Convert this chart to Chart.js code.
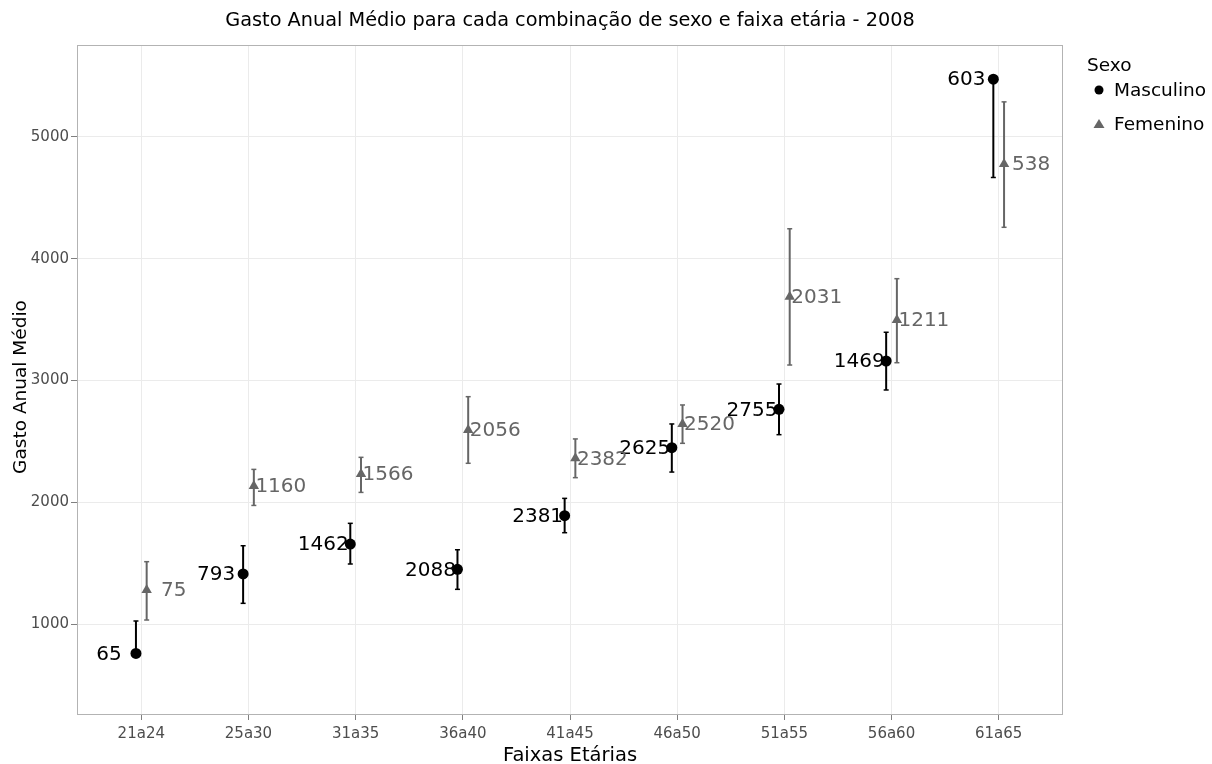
<!DOCTYPE html>
<html lang="pt">
<head>
<meta charset="utf-8">
<title>Gasto Anual Médio por sexo e faixa etária - 2008</title>
<script src="https://cdn.jsdelivr.net/npm/chart.js@4.4.1/dist/chart.umd.min.js"></script>
<style>
  html, body { margin: 0; padding: 0; background: #ffffff; }
  #wrap { width: 1212px; height: 764px; position: relative; }
  canvas { display: block; }
</style>
</head>
<body>
<div id="wrap"><canvas id="grafico" width="1212" height="764"></canvas></div>
<script>
// Faixas etárias (eixo x)
const faixas = ['21a24', '25a30', '31a35', '36a40', '41a45', '46a50', '51a55', '56a60', '61a65'];

// Masculino: média, limites do intervalo e tamanho da amostra
const mascMedia = [759, 1411, 1657, 1449, 1890, 2448, 2763, 3160, 5474];
const mascInf   = [null, 1170, 1493, 1285, 1750, 2248, 2555, 2922, 4667];
const mascSup   = [1025, 1643, 1827, 1610, 2032, 2643, 2971, 3396, null];
const mascN     = [65, 793, 1462, 2088, 2381, 2625, 2755, 1469, 603];

// Femenino: média, limites do intervalo e tamanho da amostra
const femMedia = [1279, 2133, 2232, 2593, 2361, 2643, 3688, 3497, 4778];
const femInf   = [1033, 1974, 2081, 2320, 2202, 2484, 3127, 3146, 4258];
const femSup   = [1512, 2270, 2369, 2867, 2520, 2799, 4246, 3836, 5288];
const femN     = [75, 1160, 1566, 2056, 2382, 2520, 2031, 1211, 538];

// Marcas do eixo y
const yTicks = [1000, 2000, 3000, 4000, 5000];

const FONT = "'DejaVu Sans', Verdana, sans-serif";
const COR_M = '#000000';
const COR_F = '#666666';
const DODGE = 0.05;      // deslocamento horizontal de cada sexo dentro da faixa
const LABEL_DX = 27;     // distância do rótulo n até o ponto

const series = [
  { nome: 'Masculino', media: mascMedia, inf: mascInf, sup: mascSup, n: mascN, cor: COR_M, desloc: -DODGE, lado: -1, estilo: 'circle', raio: 5.5 },
  { nome: 'Femenino',  media: femMedia,  inf: femInf,  sup: femSup,  n: femN,  cor: COR_F, desloc: DODGE,  lado: 1,  estilo: 'triangle', raio: 6 }
];

const datasets = series.map(s => ({
  label: s.nome,
  data: s.media.map((v, i) => ({ x: i + s.desloc, y: v })),
  backgroundColor: s.cor,
  borderColor: s.cor,
  borderWidth: 0,
  pointStyle: s.estilo,
  pointRadius: s.raio,
  pointHoverRadius: s.raio,
  showLine: false
}));

// Rótulos n e barras de erro, desenhados por baixo dos pontos
const barrasErro = {
  id: 'barrasErro',
  beforeDatasetsDraw(chart) {
    const ctx = chart.ctx;
    const xs = chart.scales.x, ys = chart.scales.y;
    const area = chart.chartArea;
    ctx.save();
    ctx.beginPath();
    ctx.rect(area.left, area.top, area.right - area.left, area.bottom - area.top);
    ctx.clip();
    // rótulos com o tamanho da amostra
    ctx.font = '20px ' + FONT;
    ctx.textAlign = 'center';
    ctx.textBaseline = 'middle';
    series.forEach(s => {
      ctx.fillStyle = s.cor;
      s.media.forEach((v, i) => {
        const px = xs.getPixelForValue(i + s.desloc);
        const py = ys.getPixelForValue(v);
        ctx.fillText(String(s.n[i]), px + s.lado * LABEL_DX, py + 1);
      });
    });
    // barras de erro
    const cap = 2.5;
    series.forEach(s => {
      ctx.strokeStyle = s.cor;
      s.media.forEach((v, i) => {
        const px = xs.getPixelForValue(i + s.desloc);
        const pm = ys.getPixelForValue(v);
        [s.sup[i], s.inf[i]].forEach(lim => {
          if (lim === null) return;
          const pl = ys.getPixelForValue(lim);
          ctx.lineWidth = 2;
          ctx.beginPath();
          ctx.moveTo(px, pm);
          ctx.lineTo(px, pl);
          ctx.stroke();
          ctx.lineWidth = 1.5;
          ctx.beginPath();
          ctx.moveTo(px - cap, pl);
          ctx.lineTo(px + cap, pl);
          ctx.stroke();
        });
      });
    });
    ctx.restore();
  }
};

// Título, títulos dos eixos, moldura e legenda
const decoracao = {
  id: 'decoracao',
  afterDraw(chart) {
    const ctx = chart.ctx;
    const a = chart.chartArea;
    ctx.save();
    // moldura do painel
    ctx.strokeStyle = '#b3b3b3';
    ctx.lineWidth = 1;
    ctx.strokeRect(a.left + 0.5, a.top + 0.5, a.right - a.left - 1, a.bottom - a.top - 1);

    // título
    ctx.fillStyle = '#000000';
    ctx.font = '19.3px ' + FONT;
    ctx.textAlign = 'center';
    ctx.textBaseline = 'middle';
    ctx.fillText('Gasto Anual Médio para cada combinação de sexo e faixa etária - 2008', (a.left + a.right) / 2, 21);

    // títulos dos eixos
    ctx.font = '19.5px ' + FONT;
    ctx.fillText('Faixas Etárias', (a.left + a.right) / 2, 756);
    ctx.font = '18.5px ' + FONT;
    ctx.save();
    ctx.translate(21, (a.top + a.bottom) / 2 + 7);
    ctx.rotate(-Math.PI / 2);
    ctx.fillText('Gasto Anual Médio', 0, 0);
    ctx.restore();

    // legenda
    ctx.textAlign = 'left';
    ctx.font = '18.5px ' + FONT;
    ctx.fillStyle = '#000000';
    ctx.fillText('Sexo', 1087, 66);
    const itens = [{ s: series[0], y: 90 }, { s: series[1], y: 124 }];
    itens.forEach(it => {
      ctx.fillStyle = it.s.cor;
      if (it.s.estilo === 'circle') {
        ctx.beginPath();
        ctx.arc(1099, it.y, 4.5, 0, Math.PI * 2);
        ctx.fill();
      } else {
        ctx.beginPath();
        ctx.moveTo(1099, it.y - 5);
        ctx.lineTo(1104.5, it.y + 4);
        ctx.lineTo(1093.5, it.y + 4);
        ctx.closePath();
        ctx.fill();
      }
      ctx.fillStyle = '#000000';
      ctx.fillText(it.s.nome, 1114, it.y + 1);
    });
    ctx.restore();
  }
};

new Chart(document.getElementById('grafico'), {
  type: 'scatter',
  data: { datasets },
  plugins: [barrasErro, decoracao],
  options: {
    responsive: false,
    animation: false,
    devicePixelRatio: 1,
    events: [],
    layout: { padding: { top: 45, right: 149, left: 0, bottom: 0 } },
    plugins: {
      legend: { display: false },
      title: { display: false },
      tooltip: { enabled: false }
    },
    scales: {
      x: {
        type: 'linear',
        min: -0.6,
        max: faixas.length - 0.4,
        afterBuildTicks(scale) { scale.ticks = faixas.map((_, i) => ({ value: i })); },
        afterFit(scale) { scale.height = 49; },
        ticks: {
          callback: v => faixas[v],
          color: '#4d4d4d',
          font: { family: FONT, size: 15 },
          padding: 5,
          maxRotation: 0,
          autoSkip: false
        },
        grid: { color: '#ebebeb', lineWidth: 1, tickColor: '#7f7f7f', tickLength: 5 },
        border: { display: false }
      },
      y: {
        type: 'linear',
        min: 253,
        max: 5755,
        afterBuildTicks(scale) { scale.ticks = yTicks.map(v => ({ value: v })); },
        afterFit(scale) { scale.width = 77; },
        ticks: {
          callback: v => String(v),
          color: '#4d4d4d',
          font: { family: FONT, size: 15 },
          padding: 2
        },
        grid: { color: '#ebebeb', lineWidth: 1, tickColor: '#7f7f7f', tickLength: 6 },
        border: { display: false }
      }
    }
  }
});
</script>
</body>
</html>
